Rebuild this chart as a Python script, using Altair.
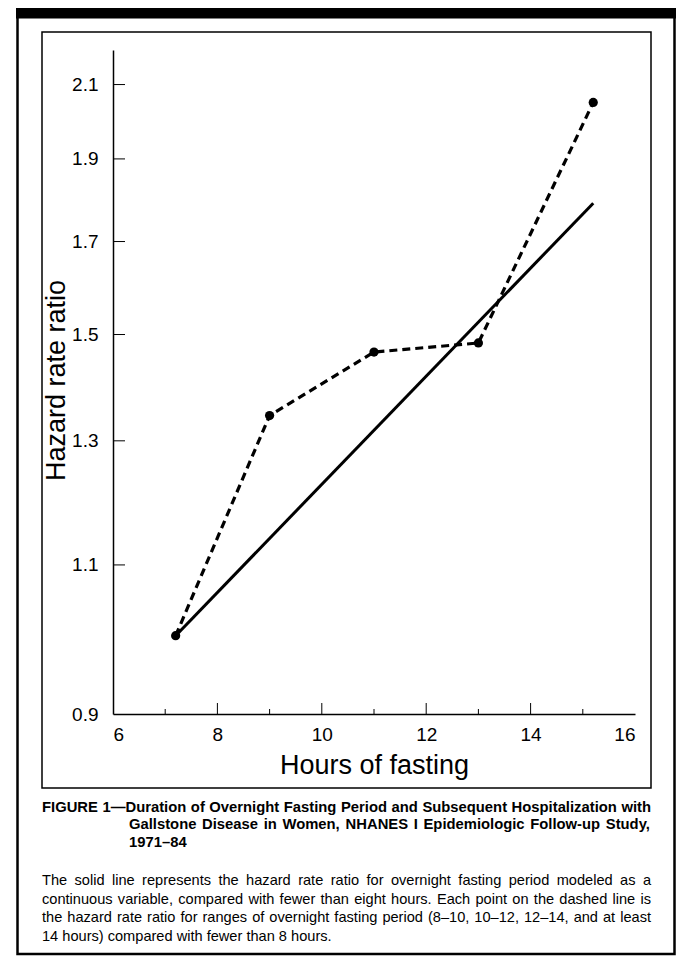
import altair as alt
import pandas as pd

# ---- data ----
hours_cat = [7.2, 9.0, 11.0, 13.0, 15.2]
hrr_cat = [1.0, 1.345, 1.465, 1.483, 2.05]
hours_lin = [7.2, 15.2]
hrr_lin = [1.0, 1.79]
y_tick_values = [0.9, 1.1, 1.3, 1.5, 1.7, 1.9, 2.1]
x_major = [6, 8, 10, 12, 14, 16]
x_minor = [7, 9, 11, 13, 15]

title_lines = [
    "FIGURE 1\u2014Duration of Overnight Fasting Period and Subsequent Hospitalization with",
    "Gallstone Disease in Women, NHANES I Epidemiologic Follow-up Study,",
    "1971\u201384",
]
body_lines = [
    "The solid line represents the hazard rate ratio for overnight fasting period modeled as a",
    "continuous variable, compared with fewer than eight hours. Each point on the dashed line is",
    "the hazard rate ratio for ranges of overnight fasting period (8\u201310, 10\u201312, 12\u201314, and at least",
    "14 hours) compared with fewer than 8 hours.",
]

W, H = 522, 664
FONT = "Liberation Sans"

# ---- approximate Helvetica/Arial advance widths (per 1000 em) for justifying the caption ----
_reg = {
    " ": 278, ",": 278, ".": 278, "-": 333, "(": 333, ")": 333, "\u2013": 556, "\u2014": 1000,
    "A": 667, "B": 667, "C": 722, "D": 722, "E": 667, "F": 611, "G": 778, "H": 722, "I": 278,
    "J": 500, "K": 667, "L": 556, "M": 833, "N": 722, "O": 778, "P": 667, "Q": 778, "R": 722,
    "S": 667, "T": 611, "U": 722, "V": 667, "W": 944, "X": 667, "Y": 667, "Z": 611,
    "a": 556, "b": 556, "c": 500, "d": 556, "e": 556, "f": 278, "g": 556, "h": 556, "i": 222,
    "j": 222, "k": 500, "l": 222, "m": 833, "n": 556, "o": 556, "p": 556, "q": 556, "r": 333,
    "s": 500, "t": 278, "u": 556, "v": 500, "w": 722, "x": 500, "y": 500, "z": 500,
}
_bold = dict(_reg)
_bold.update({
    "A": 722, "B": 722, "J": 556, "K": 722, "L": 611,
    "b": 611, "c": 556, "d": 611, "f": 333, "g": 611, "h": 611, "i": 278, "j": 278, "k": 556,
    "l": 278, "m": 889, "n": 611, "o": 611, "p": 611, "q": 611, "r": 389, "s": 556, "t": 333,
    "u": 611, "v": 556, "w": 778, "x": 556, "y": 556,
})


def text_width(s, size, table):
    return sum(table.get(c, 556) for c in s) * size / 1000.0


def justify(line, x0, x1, size, table):
    words = line.split(" ")
    widths = [text_width(w, size, table) for w in words]
    space = text_width(" ", size, table)
    if len(words) > 1:
        gap = max(space, (x1 - x0 - sum(widths)) / (len(words) - 1))
    else:
        gap = space
    xs, cur = [], x0
    for w in widths:
        xs.append(cur)
        cur += w + gap
    return words, xs


xscale = alt.Scale(domain=[6, 16], nice=False, zero=False)
yscale = alt.Scale(type="log", domain=[0.9, 2.2], nice=False)

x_axis = alt.Axis(
    values=x_major, format="d", ticks=False, tickSize=0, grid=False,
    labelFont=FONT, labelFontSize=19, labelColor="black", labelPadding=11,
    domainColor="black", domainWidth=1.5,
    title="Hours of fasting", titleFont=FONT, titleFontSize=27,
    titleFontWeight="normal", titleColor="black",
    titleX=W / 2, titleY=59, titleBaseline="alphabetic", titleAlign="center",
)
y_axis = alt.Axis(
    values=y_tick_values, format=".1f", ticks=False, tickSize=0, grid=False,
    labelFont=FONT, labelFontSize=19, labelColor="black", labelPadding=15,
    labelBaseline="middle", domainColor="black", domainWidth=1.5,
    title="Hazard rate ratio", titleFont=FONT, titleFontSize=27,
    titleFontWeight="normal", titleColor="black", titleAngle=270,
    titleX=-49, titleY=330, titleBaseline="alphabetic", titleAlign="center",
)

cat_df = pd.DataFrame({"hours": hours_cat, "hrr": hrr_cat})
lin_df = pd.DataFrame({"hours": hours_lin, "hrr": hrr_lin})

one = alt.Data(values=[{"a": 1}])

# ---- frame ----
header = alt.Chart(one).mark_rect(color="black").encode(
    x=alt.value(-97), x2=alt.value(563), y=alt.value(-44), y2=alt.value(-31.5)
)
outer = alt.Chart(one).mark_rect(fillOpacity=0, stroke="black", strokeWidth=2.5).encode(
    x=alt.value(-95.5), x2=alt.value(561.5), y=alt.value(-40), y2=alt.value(904)
)
inner = alt.Chart(one).mark_rect(fillOpacity=0, stroke="black", strokeWidth=1.5).encode(
    x=alt.value(-71), x2=alt.value(538), y=alt.value(-18), y2=alt.value(738)
)

# ---- main lines (axes drawn once, by the solid-line layer) ----
solid = alt.Chart(lin_df).mark_line(color="black", strokeWidth=3).encode(
    x=alt.X("hours:Q", scale=xscale, axis=x_axis),
    y=alt.Y("hrr:Q", scale=yscale, axis=y_axis),
)
enc = dict(
    x=alt.X("hours:Q", scale=xscale, axis=None),
    y=alt.Y("hrr:Q", scale=yscale, axis=None),
)
dashed = alt.Chart(cat_df).mark_line(
    color="black", strokeWidth=3.2, strokeDash=[8, 5]
).encode(**enc)
points = alt.Chart(cat_df).mark_circle(color="black", opacity=1, size=85).encode(**enc)

# ---- inward ticks ----
ytick_df = pd.DataFrame({"v": [v for v in y_tick_values if v > 0.9]})
yticks = alt.Chart(ytick_df).mark_rule(color="black", strokeWidth=1).encode(
    y=alt.Y("v:Q", scale=yscale, axis=None), x=alt.value(0), x2=alt.value(12)
)
xmaj_df = pd.DataFrame({"v": [v for v in x_major if 6 < v < 16]})
xmaj = alt.Chart(xmaj_df).mark_rule(color="black", strokeWidth=1).encode(
    x=alt.X("v:Q", scale=xscale, axis=None), y=alt.value(H), y2=alt.value(H - 11)
)
xmin_df = pd.DataFrame({"v": x_minor})
xmin = alt.Chart(xmin_df).mark_rule(color="black", strokeWidth=1).encode(
    x=alt.X("v:Q", scale=xscale, axis=None), y=alt.value(H), y2=alt.value(H - 5)
)

# ---- caption (word layout, justified like the printed figure) ----
LEFT, RIGHT = -71, 538
TSIZE, BSIZE = 14.8, 14.6
rows_bold, rows_body = [], []
title_y = [761.7, 779.3, 797.0]
title_x = [LEFT, 16, 16]
title_just = [True, True, False]
for txt, yy, xx, just in zip(title_lines, title_y, title_x, title_just):
    if just:
        words, xs = justify(txt, xx, RIGHT, TSIZE, _bold)
        rows_bold += [{"w": w, "px": px, "py": yy} for w, px in zip(words, xs)]
    else:
        rows_bold.append({"w": txt, "px": xx, "py": yy})
body_y = [835.0, 853.5, 872.0, 890.5]
body_just = [True, True, True, False]
for txt, yy, just in zip(body_lines, body_y, body_just):
    if just:
        words, xs = justify(txt, LEFT, RIGHT, BSIZE, _reg)
        rows_body += [{"w": w, "px": px, "py": yy} for w, px in zip(words, xs)]
    else:
        rows_body.append({"w": txt, "px": LEFT, "py": yy})

cap_bold = alt.Chart(pd.DataFrame(rows_bold)).mark_text(
    align="left", baseline="alphabetic", font=FONT, fontSize=TSIZE,
    fontWeight="bold", color="black"
).encode(
    x=alt.X("px:Q", scale=None, axis=None),
    y=alt.Y("py:Q", scale=None, axis=None),
    text="w:N",
)
cap_body = alt.Chart(pd.DataFrame(rows_body)).mark_text(
    align="left", baseline="alphabetic", font=FONT, fontSize=BSIZE, color="black"
).encode(
    x=alt.X("px:Q", scale=None, axis=None),
    y=alt.Y("py:Q", scale=None, axis=None),
    text="w:N",
)

chart = alt.layer(
    solid, dashed, points, yticks, xmaj, xmin, header, outer, inner, cap_bold, cap_body
).resolve_scale(x="independent", y="independent").properties(
    width=W,
    height=H,
    padding={"left": 105, "top": 42, "right": 47, "bottom": 244},
    autosize=alt.AutoSizeParams(type="none"),
    background="white",
).configure_view(stroke=None)

chart.save("out.html", embed_options={"renderer": "svg", "actions": False})
